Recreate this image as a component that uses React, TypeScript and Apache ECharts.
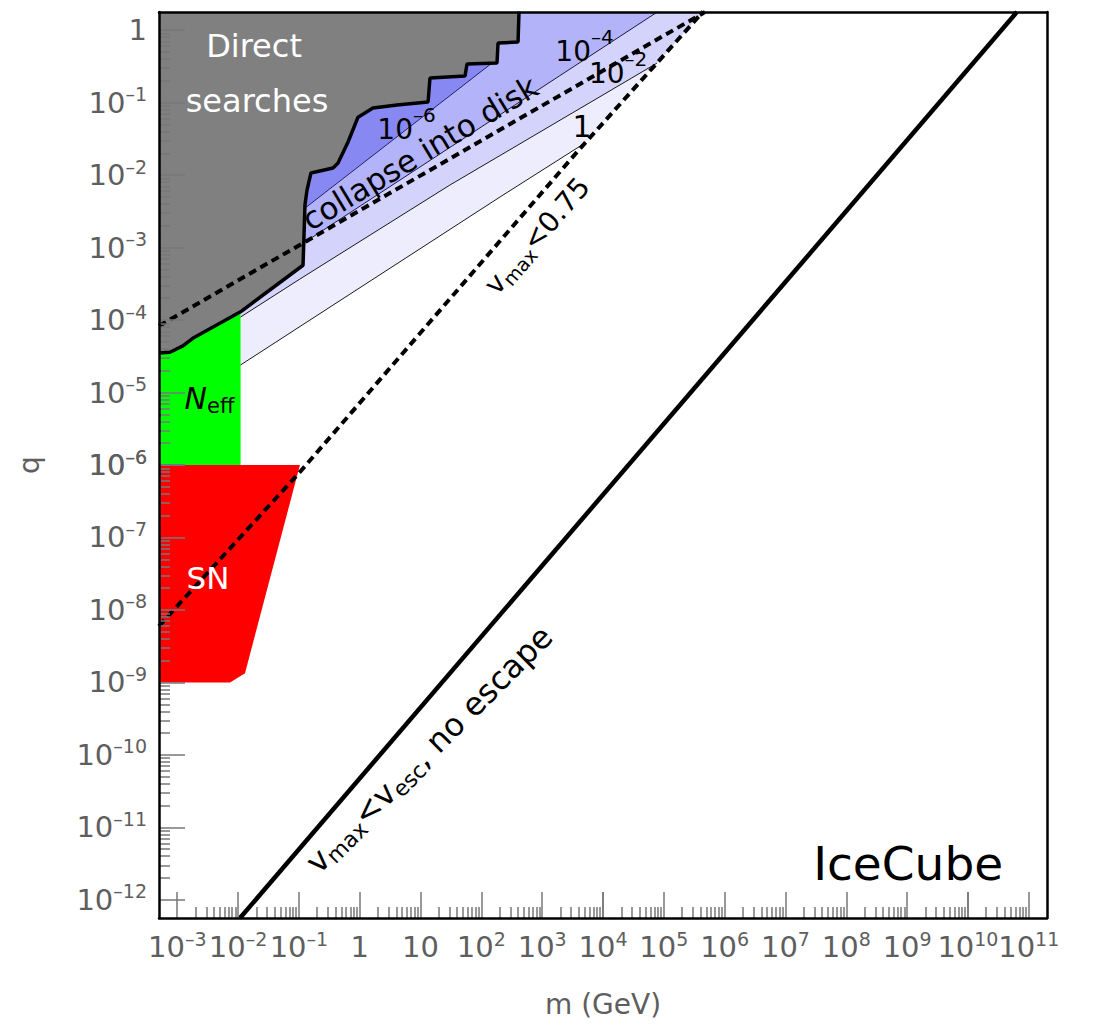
import { useEffect, useRef } from "react";
import * as echarts from "echarts";

const FONT = '"DejaVu Sans", "Liberation Sans", sans-serif';
const AXIS_TEXT = "#5e5e5e";
const TICK_COLOR = "#777777";

const CHART_W = 1094;
const CHART_H = 1025;
const PLOT_LEFT = 159;
const PLOT_RIGHT = 1047;
const PLOT_TOP = 12;
const PLOT_BOTTOM = 918;

// plot range in decades
const X_MIN_EXP = -3.3;
const X_MAX_EXP = 11.3;
const Y_MIN_EXP = -12.25;
const Y_MAX_EXP = 0.25;
const X_MIN = Math.pow(10, X_MIN_EXP);
const X_MAX = Math.pow(10, X_MAX_EXP);
const Q_MIN = Math.pow(10, Y_MIN_EXP);
const Q_MAX = Math.pow(10, Y_MAX_EXP);

// decade ranges of the tick axes (split so each spans < 10 decades)
const xTickRangeA = [-3, 4];
const xTickRangeB = [4, 10];
const xTickRangeC = [10, 11];
const yTickRangeA = [-6, 0];
const yTickRangeB = [-12, -6];

// Direct searches exclusion boundary (m in GeV, q)
const directM = [5e-4, 7.6e-4, 1.24e-3, 1.8e-3, 0.011, 0.117, 0.126, 0.136, 0.158, 0.364, 0.44, 0.643, 0.938, 1.65, 4.1, 13.3, 14.3, 53.9, 58.1, 181, 188, 401, 416];
const directQ = [3.5e-5, 3.6e-5, 4.4e-5, 5.6e-5, 1.3e-4, 5.7e-4, 3.9e-3, 6.2e-3, 0.0107, 0.0125, 0.0147, 0.0286, 0.063, 0.0843, 0.0927, 0.102, 0.218, 0.233, 0.341, 0.352, 0.664, 0.685, 1.8];

// N_eff region
const neffM = [5e-4, 0.011, 0.011, 5e-4];
const neffQ = [1e-6, 1e-6, 1.3e-4, 1.3e-4];

// Supernova region
const snM = [5e-4, 0.104, 0.013, 7.4e-3, 5e-4];
const snQ = [1e-6, 1e-6, 1.34e-9, 1e-9, 1e-9];

// contour lines of the blue bands
const lineCM = [0.011, 203, 5060];
const lineCQ = [2.4e-5, 4.99e-3, 0.0277];
const lineDM = [0.011, 0.104, 30.5, 7.7e4];
const lineDQ = [1.1e-4, 3.68e-4, 7.3e-3, 0.35];
const lineBM = [0.126, 8.0e4];
const lineBQ = [1.19e-3, 1.8];
const lineAM = [0.126, 150];
const lineAQ = [3.5e-3, 0.352];

// band polygons
const band1M = [0.011, 203, 5060, 4.42e5, 0.011];
const band1Q = [2.4e-5, 4.99e-3, 0.0277, 1.8, 1.8];
const band2M = [0.011, 0.104, 30.5, 7.7e4, 4.42e5, 0.011];
const band2Q = [1.1e-4, 3.68e-4, 7.3e-3, 0.35, 1.8, 1.8];
const band3M = [0.126, 8.0e4, 0.126];
const band3Q = [1.19e-3, 1.8, 1.8];
const band4M = [0.12, 150, 0.12];
const band4Q = [3.4e-3, 0.352, 0.352];

// v_max < 0.75 (dashed)
const vmaxM = [5e-4, 0.104, 3740, 4.42e5];
const vmaxQ = [6e-9, 8e-7, 0.0208, 1.8];
// collapse into disk (dashed)
const collapseM = [5e-4, 4.75e5];
const collapseQ = [8.3e-5, 1.778];
// v_max < v_esc, no escape (thick)
const escapeM = [0.01076, 6.4e10];
const escapeQ = [Q_MIN, 1.778];

const ppdX = (PLOT_RIGHT - PLOT_LEFT) / (X_MAX_EXP - X_MIN_EXP);
const ppdY = (PLOT_BOTTOM - PLOT_TOP) / (Y_MAX_EXP - Y_MIN_EXP);
const xAt = (e: number) => PLOT_LEFT + (e - X_MIN_EXP) * ppdX;
const yAt = (e: number) => PLOT_TOP + (Y_MAX_EXP - e) * ppdY;

const zip = (ms: number[], qs: number[]) => ms.map((m, i) => [m, qs[i]]);

const tickRich = {
  b: { fontSize: 29, lineHeight: 36, verticalAlign: "middle", color: AXIS_TEXT, fontFamily: FONT },
  s: { fontSize: 19, lineHeight: 19, verticalAlign: "top", color: AXIS_TEXT, fontFamily: FONT },
};

const expLabel = (v: number) => {
  const e = Math.round(Math.log10(v));
  if (e === 0) return "{b|1}";
  if (e === 1) return "{b|10}";
  return `{b|10}{s|${e < 0 ? "–" : ""}${Math.abs(e)}}`;
};

function polygonSeries(ms: number[], qs: number[], color: string, z: number) {
  const pts = zip(ms, qs);
  return {
    type: "custom",
    xAxisIndex: 0,
    yAxisIndex: 0,
    silent: true,
    clip: true,
    z,
    data: pts,
    renderItem: (params: any, api: any) => {
      if (params.dataIndex !== 0) return null;
      return {
        type: "polygon",
        shape: { points: pts.map((p) => api.coord(p)) },
        style: { fill: color, stroke: null },
      };
    },
  };
}

function lineSeries(ms: number[], qs: number[], lineStyle: any, z: number) {
  return {
    type: "line",
    xAxisIndex: 0,
    yAxisIndex: 0,
    data: zip(ms, qs),
    showSymbol: false,
    symbol: "none",
    silent: true,
    clip: true,
    z,
    lineStyle,
  };
}

function tickAxis(kind: "x" | "y", gridIndex: number, range: number[], extraLabel: any) {
  return {
    type: "log",
    logBase: 10,
    gridIndex,
    min: Math.pow(10, range[0]),
    max: Math.pow(10, range[1]),
    position: kind === "x" ? "bottom" : "left",
    z: 10,
    axisLine: { show: false, onZero: false },
    axisTick: { show: true, inside: true, length: 26, lineStyle: { color: TICK_COLOR, width: 1.5 } },
    minorTick: { show: true, splitNumber: 9, length: 11, lineStyle: { color: TICK_COLOR, width: 1.5 } },
    splitLine: { show: false },
    minorSplitLine: { show: false },
    axisLabel: {
      show: true,
      interval: 0,
      margin: kind === "x" ? 11 : 12,
      formatter: expLabel,
      rich: tickRich,
      color: AXIS_TEXT,
      fontFamily: FONT,
      ...extraLabel,
    },
  };
}

const hiddenValueAxis = (gridIndex: number) => ({ type: "value", gridIndex, min: 0, max: 1, show: false });

const frameAxisStyle = { show: true, onZero: false, lineStyle: { color: "#000", width: 2.5 } };

const textRich = (color: string) => ({
  b: { fontSize: 28, lineHeight: 29, verticalAlign: "middle", color, fontFamily: FONT },
  s: { fontSize: 20, height: 1, verticalAlign: "top", color, fontFamily: FONT },
  m: { fontSize: 28, lineHeight: 34, verticalAlign: "middle", color, fontFamily: FONT },
  u: { fontSize: 19, lineHeight: 19, verticalAlign: "bottom", color, fontFamily: FONT },
  m2: { fontSize: 32, lineHeight: 38, verticalAlign: "middle", color, fontFamily: FONT },
  u2: { fontSize: 22, lineHeight: 22, verticalAlign: "bottom", color, fontFamily: FONT },
  n: { fontSize: 30, lineHeight: 36, verticalAlign: "middle", fontStyle: "italic", color, fontFamily: FONT },
  e: { fontSize: 21, lineHeight: 21, verticalAlign: "bottom", color, fontFamily: FONT },
});

const note = (m: number, q: number, formatter: string, opts: any = {}) => ({
  value: [m, q],
  label: {
    show: true,
    position: "inside",
    formatter,
    color: opts.color || "#000",
    opacity: 1,
    textBorderWidth: 0,
    fontSize: opts.fontSize || 30,
    fontFamily: FONT,
    rotate: opts.rotate || 0,
    rich: textRich(opts.color || "#000"),
  },
});

const plainGrid = { containLabel: false, outerBoundsMode: "none" };

const option: any = {
  animation: false,
  grid: [
    { ...plainGrid, left: PLOT_LEFT, right: CHART_W - PLOT_RIGHT, top: PLOT_TOP, bottom: CHART_H - PLOT_BOTTOM },
    { ...plainGrid, left: xAt(xTickRangeA[0]), right: CHART_W - xAt(xTickRangeA[1]), top: PLOT_TOP, bottom: CHART_H - PLOT_BOTTOM },
    { ...plainGrid, left: xAt(xTickRangeB[0]), right: CHART_W - xAt(xTickRangeB[1]), top: PLOT_TOP, bottom: CHART_H - PLOT_BOTTOM },
    { ...plainGrid, left: xAt(xTickRangeC[0]), right: CHART_W - xAt(xTickRangeC[1]), top: PLOT_TOP, bottom: CHART_H - PLOT_BOTTOM },
    { ...plainGrid, left: PLOT_LEFT, right: CHART_W - PLOT_RIGHT, top: yAt(yTickRangeA[1]), bottom: CHART_H - yAt(yTickRangeA[0]) },
    { ...plainGrid, left: PLOT_LEFT, right: CHART_W - PLOT_RIGHT, top: yAt(yTickRangeB[1]), bottom: CHART_H - yAt(yTickRangeB[0]) },
  ],
  xAxis: [
    {
      type: "log", logBase: 10, gridIndex: 0, min: X_MIN, max: X_MAX, position: "bottom", z: 11,
      axisLine: frameAxisStyle, axisTick: { show: false }, axisLabel: { show: false }, splitLine: { show: false },
      name: "m (GeV)", nameLocation: "middle", nameGap: 72,
      nameTextStyle: { fontSize: 28, color: AXIS_TEXT, fontFamily: FONT },
    },
    {
      type: "log", logBase: 10, gridIndex: 0, min: X_MIN, max: X_MAX, position: "top", z: 11,
      axisLine: frameAxisStyle, axisTick: { show: false }, axisLabel: { show: false }, splitLine: { show: false },
    },
    tickAxis("x", 1, xTickRangeA, {}),
    tickAxis("x", 2, xTickRangeB, { showMinLabel: false, showMaxLabel: true }),
    tickAxis("x", 3, xTickRangeC, { showMinLabel: false, showMaxLabel: true }),
    hiddenValueAxis(4),
    hiddenValueAxis(5),
  ],
  yAxis: [
    {
      type: "log", logBase: 10, gridIndex: 0, min: Q_MIN, max: Q_MAX, position: "left", z: 11,
      axisLine: frameAxisStyle, axisTick: { show: false }, axisLabel: { show: false }, splitLine: { show: false },
      name: "q", nameLocation: "middle", nameGap: 116,
      nameTextStyle: { fontSize: 28, color: AXIS_TEXT, fontFamily: FONT },
    },
    {
      type: "log", logBase: 10, gridIndex: 0, min: Q_MIN, max: Q_MAX, position: "right", z: 11,
      axisLine: frameAxisStyle, axisTick: { show: false }, axisLabel: { show: false }, splitLine: { show: false },
    },
    hiddenValueAxis(1),
    hiddenValueAxis(2),
    hiddenValueAxis(3),
    tickAxis("y", 4, yTickRangeA, { showMaxLabel: true }),
    tickAxis("y", 5, yTickRangeB, { showMaxLabel: false }),
  ],
  series: [
    polygonSeries(band1M, band1Q, "#ededfd", 2),
    polygonSeries(band2M, band2Q, "#d3d3fb", 2),
    polygonSeries(band3M, band3Q, "#b3b3f9", 2),
    polygonSeries(band4M, band4Q, "#8888f2", 2),
    polygonSeries(neffM, neffQ, "#00ff00", 3),
    polygonSeries(snM, snQ, "#ff0000", 3),
    polygonSeries([...directM, X_MIN * 0.99], [...directQ, 1.8], "#808080", 4),
    lineSeries(lineCM, lineCQ, { color: "#1a1a1a", width: 1 }, 5),
    lineSeries(lineDM, lineDQ, { color: "#1a1a1a", width: 1 }, 5),
    lineSeries(lineBM, lineBQ, { color: "#1a1a40", width: 1 }, 5),
    lineSeries(lineAM, lineAQ, { color: "#22226a", width: 1 }, 5),
    lineSeries(directM, directQ, { color: "#000", width: 3.5 }, 6),
    lineSeries(collapseM, collapseQ, { color: "#000", width: 4, type: [8, 5] }, 6),
    lineSeries(vmaxM, vmaxQ, { color: "#000", width: 4, type: [8, 5] }, 6),
    lineSeries(escapeM, escapeQ, { color: "#000", width: 4.5 }, 7),
    {
      type: "scatter",
      xAxisIndex: 0,
      yAxisIndex: 0,
      symbolSize: 0,
      silent: true,
      z: 8,
      data: [
        note(0.0183, 0.6, "Direct", { color: "#fff", fontSize: 32 }),
        note(0.0205, 0.105, "searches", { color: "#fff", fontSize: 32 }),
        note(3.2e-3, 2.8e-8, "SN", { color: "#fff", fontSize: 31 }),
        note(3.39e-3, 8.4e-6, "{n|N}{e|eff}"),
        note(5.88, 0.0432, "{b|10}{s|–6}"),
        note(4970, 0.515, "{b|10}{s|–4}"),
        note(1.77e4, 0.256, "{b|10}{s|–2}"),
        note(4520, 0.0475, "1"),
        note(9.8, 0.0202, "collapse into disk", { rotate: 31, fontSize: 31 }),
        note(822, 1.45e-3, "{m|v}{u|max}{m|<0.75}", { rotate: 49 }),
        note(13.8, 1.2e-10, "{m2|v}{u2|max}{m2|<v}{u2|esc}{m2|, no escape}", { rotate: 45 }),
        note(1.04e9, 3.13e-12, "IceCube", { fontSize: 47 }),
      ],
    },
  ],
};

export default function App() {
  const ref = useRef<HTMLDivElement>(null);
  useEffect(() => {
    if (!ref.current) return;
    const chart = echarts.init(ref.current, null, { renderer: "svg" });
    chart.setOption(option);
    return () => chart.dispose();
  }, []);
  return (
    <div
      ref={ref}
      style={{ position: "absolute", left: 0, top: 0, width: CHART_W, height: CHART_H, background: "#fff" }}
    />
  );
}
